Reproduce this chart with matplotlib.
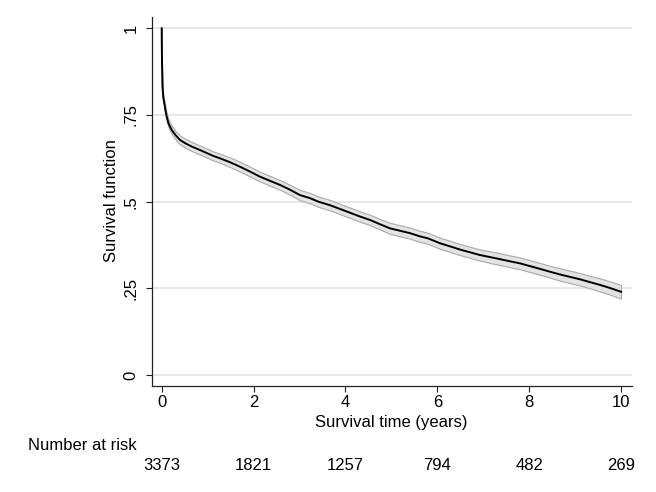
import matplotlib
matplotlib.use("Agg")
import matplotlib.pyplot as plt
import matplotlib.transforms as mtransforms
import numpy as np

plt.rcParams['font.family'] = ['Liberation Sans', 'DejaVu Sans']

# Kaplan-Meier estimate
time_years = [0, 0.003, 0.007, 0.017, 0.035, 0.057, 0.08, 0.109, 0.15, 0.218, 0.30,
              0.398, 0.52, 0.653, 0.85, 1.12, 1.27, 1.50, 1.70, 1.92, 2.14, 2.36,
              2.58, 2.80, 3.01, 3.23, 3.41, 3.66, 3.88, 4.10, 4.32, 4.54, 4.75,
              4.97, 5.19, 5.41, 5.62, 5.80, 6.06, 6.28, 6.49, 6.71, 6.93, 7.15,
              7.37, 7.58, 7.80, 8.02, 8.24, 8.45, 8.67, 8.89, 9.11, 9.32, 9.54,
              9.76, 10.0]
survival = [1.0, 0.95, 0.90, 0.832, 0.80, 0.784, 0.765, 0.745, 0.725, 0.707, 0.692,
            0.678, 0.668, 0.659, 0.648, 0.632, 0.625, 0.613, 0.601, 0.587, 0.572, 0.560,
            0.548, 0.534, 0.519, 0.510, 0.500, 0.490, 0.479, 0.468, 0.457, 0.447, 0.435,
            0.423, 0.416, 0.409, 0.400, 0.394, 0.380, 0.371, 0.362, 0.354, 0.346, 0.340,
            0.334, 0.328, 0.322, 0.314, 0.306, 0.298, 0.290, 0.283, 0.276, 0.268, 0.260,
            0.251, 0.240]
ci_halfwidth = [0.0, 0.004, 0.006, 0.008, 0.009, 0.010, 0.011, 0.011, 0.012, 0.012, 0.012,
                0.013, 0.013, 0.013, 0.013, 0.013, 0.013, 0.014, 0.014, 0.014, 0.014, 0.014,
                0.014, 0.014, 0.015, 0.015, 0.015, 0.015, 0.015, 0.015, 0.015, 0.015, 0.015,
                0.016, 0.016, 0.016, 0.016, 0.016, 0.016, 0.016, 0.016, 0.016, 0.016, 0.017,
                0.017, 0.017, 0.017, 0.017, 0.017, 0.017, 0.018, 0.018, 0.018, 0.018, 0.019,
                0.019, 0.020]

x_ticks = [0, 2, 4, 6, 8, 10]
y_ticks = [0, 0.25, 0.5, 0.75, 1]
y_ticklabels = ['0', '.25', '.5', '.75', '1']
risk_times = [0, 2, 4, 6, 8, 10]
number_at_risk = [3373, 1821, 1257, 794, 482, 269]

t = np.array(time_years)
s = np.array(survival)
h = np.array(ci_halfwidth)

FS = 12

fig = plt.figure(figsize=(6.56, 4.92), dpi=100)
ax = fig.add_axes([152/656, 1 - 385.7/492, 480/656, (385.7 - 17)/492])

ax.fill_between(t, s - h, s + h, facecolor='#e3e3e3', edgecolor='#a9a9a9',
                linewidth=0.8, zorder=2)
ax.plot(t, s, color='black', linewidth=1.4, zorder=3)

ax.set_xlim(-0.211, 10.24)
ax.set_ylim(-0.0309, 1.0326)
ax.set_xticks(x_ticks)
ax.set_yticks(y_ticks)
ax.set_yticklabels(y_ticklabels, rotation=90, va='center')

ax.yaxis.grid(True, color='#e6e6e6', linewidth=1.3, zorder=0)
ax.set_axisbelow(True)
for side in ['top', 'right']:
    ax.spines[side].set_visible(False)
for side in ['left', 'bottom']:
    ax.spines[side].set_color('#222222')
    ax.spines[side].set_linewidth(0.9)

ax.tick_params(axis='both', labelsize=FS, length=4.5, width=0.8, color='#222222')
ax.tick_params(axis='x', pad=2.5)
ax.tick_params(axis='y', pad=5)

ax.set_xlabel('Survival time (years)', fontsize=FS, va='center')
ax.xaxis.set_label_coords(0.498, (385.7 - 423) / 368.7)
ax.set_ylabel('Survival function', fontsize=FS, va='center')
ax.yaxis.set_label_coords((111.7 - 152) / 480, (385.7 - 200.5) / 368.7)

fig.text(28/656, 1 - 446/492, 'Number at risk', fontsize=FS, ha='left', va='center')
trans = mtransforms.blended_transform_factory(ax.transData, fig.transFigure)
for rt, n in zip(risk_times, number_at_risk):
    ax.text(rt, 1 - 465/492, str(n), transform=trans, fontsize=FS,
            ha='center', va='center')

fig.savefig('out.png', dpi=100)
